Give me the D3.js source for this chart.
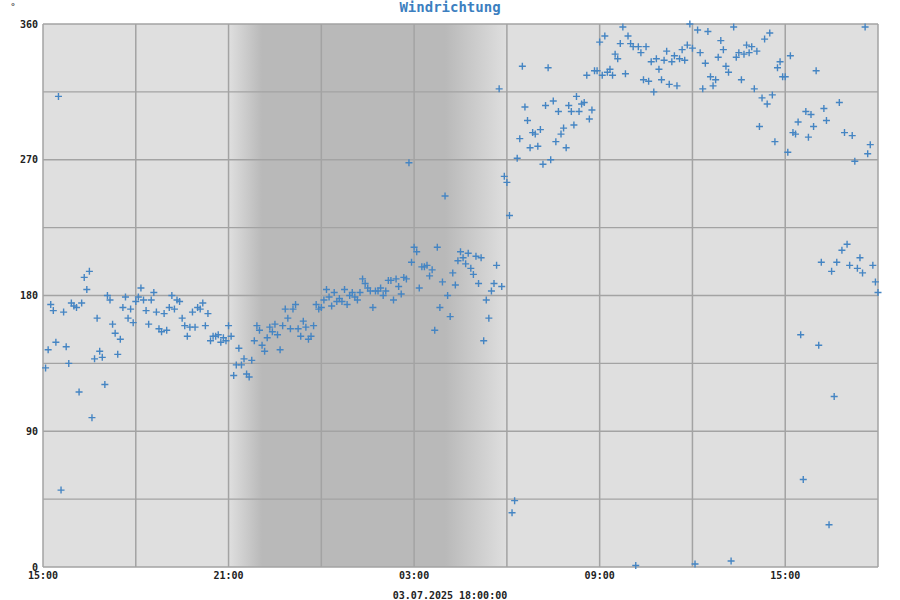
<!DOCTYPE html>
<html>
<head>
<meta charset="utf-8">
<script src="https://cdn.jsdelivr.net/npm/d3@7"></script>
<style>
  body { margin: 0; background: #ffffff; }
  svg { display: block; }
  text { font-family: "DejaVu Sans Mono", "Liberation Mono", monospace; font-weight: bold; }
</style>
</head>
<body>
<svg id="chart" width="900" height="600"></svg>
<script>
// ---------------- data ----------------
const chartTitle = "Windrichtung";
const unitLabel = "°";
const dateLabel = "03.07.2025 18:00:00";
const domainStart = "2025-07-02T15:00:00Z";
const domainEnd = "2025-07-03T18:00:00Z";
const firstSample = "2025-07-02T15:05:00Z";
const sampleStepMinutes = 5;
const yTickValues = [0, 90, 180, 270, 360];
const yTickLabels = ["0", "90", "180", "270", "360"];
const yGridValues = [0, 45, 90, 135, 180, 225, 270, 315, 360];
const xTickLabels = ["15:00", "21:00", "03:00", "09:00", "15:00"];
// night shading: twilight start, full dark, dark end, daylight
const nightTimes = ["2025-07-02T21:00:00Z", "2025-07-02T22:05:00Z", "2025-07-03T04:00:00Z", "2025-07-03T06:00:00Z"];

// wind direction in degrees, one reading every 5 minutes
const windDirection = [
  132,144,174,170,149,312,51,169,146,135,175,173,172,116,175,192,184,196,99,138,
  165,143,139,121,180,177,161,155,141,151,172,179,165,171,162,176,179,185,177,170,
  161,177,182,169,158,156,168,157,172,180,171,177,176,165,160,153,159,169,159,172,
  171,175,160,168,150,153,153,154,149,152,150,160,153,127,134,145,134,138,128,126,
  137,150,160,157,147,143,152,159,156,161,154,144,160,171,165,158,171,174,158,153,
  163,159,151,153,160,174,171,172,177,184,179,173,182,176,178,176,184,174,180,182,
  179,177,182,191,188,185,183,172,183,183,185,180,183,190,190,177,191,186,181,192,
  191,268,202,212,209,185,199,199,200,193,197,157,212,172,189,246,180,166,195,187,
  203,209,205,201,208,198,194,206,188,205,150,177,165,183,188,200,317,186,259,255,
  233,36,44,271,284,332,305,296,278,288,287,279,290,267,306,331,270,309,282,302,
  287,291,278,306,302,293,312,302,307,308,326,297,303,329,329,348,326,352,328,330,
  326,340,337,347,358,327,352,347,345,1,345,341,323,345,322,335,315,337,330,323,
  336,342,320,335,339,319,337,343,336,346,360,344,2,356,341,317,334,355,325,319,
  323,338,349,343,332,328,4,358,338,341,323,340,346,341,345,317,342,292,311,350,
  307,354,313,282,331,335,325,325,275,339,288,287,295,154,58,302,285,300,292,329,
  147,202,304,296,28,196,113,202,308,210,288,214,200,286,269,198,205,195,358,274,
  280,200,189,182
];

// ---------------- chart ----------------
const W = 900, H = 600;
const margin = { left: 43, right: 22, top: 24, bottom: 33 };
const svg = d3.select("#chart");

const x = d3.scaleUtc()
  .domain([new Date(domainStart), new Date(domainEnd)])
  .range([margin.left, W - margin.right]);
const y = d3.scaleLinear()
  .domain([0, 360])
  .range([H - margin.bottom, margin.top]);

const t0 = new Date(firstSample).getTime();
const points = windDirection.map((v, i) => ({
  t: new Date(t0 + i * sampleStepMinutes * 60000),
  v
}));

const [x0, x1] = x.range();
const [yb, yt] = y.range();
const dStart = x.domain()[0];
const dEndPlus = new Date(x.domain()[1].getTime() + 1);

// gradient for night shading
const defs = svg.append("defs");
const nx0 = x(new Date(nightTimes[0])), nx3 = x(new Date(nightTimes[3]));
const grad = defs.append("linearGradient")
  .attr("id", "night")
  .attr("gradientUnits", "userSpaceOnUse")
  .attr("x1", nx0).attr("x2", nx3)
  .attr("y1", 0).attr("y2", 0);
const off = t => (x(new Date(t)) - nx0) / (nx3 - nx0);
const light = "#dfdfdf", dark = "#b9b9b9";
grad.append("stop").attr("offset", 0).attr("stop-color", light);
grad.append("stop").attr("offset", off(nightTimes[1])).attr("stop-color", dark);
grad.append("stop").attr("offset", off(nightTimes[2])).attr("stop-color", dark);
grad.append("stop").attr("offset", 1).attr("stop-color", light);

// plot background
svg.append("rect")
  .attr("x", x0).attr("y", yt)
  .attr("width", x1 - x0).attr("height", yb - yt)
  .attr("fill", light);
svg.append("rect")
  .attr("x", nx0).attr("y", yt)
  .attr("width", nx3 - nx0).attr("height", yb - yt)
  .attr("fill", "url(#night)");

// grid
const gridColor = "#a3a3a3";
const grid = svg.append("g");
grid.selectAll("line.h").data(yGridValues).join("line")
  .attr("class", "h")
  .attr("x1", x0).attr("x2", x1)
  .attr("y1", d => y(d)).attr("y2", d => y(d))
  .attr("stroke", gridColor).attr("stroke-width", 1.4);
const xGrid = d3.utcHour.range(dStart, dEndPlus, 3);
grid.selectAll("line.v").data(xGrid).join("line")
  .attr("class", "v")
  .attr("x1", d => x(d)).attr("x2", d => x(d))
  .attr("y1", yt).attr("y2", yb)
  .attr("stroke", gridColor).attr("stroke-width", 1.5);

// y tick labels
svg.append("g").selectAll("text").data(yTickValues).join("text")
  .attr("x", x0 - 5)
  .attr("y", d => y(d) + 3.5)
  .attr("text-anchor", "end")
  .attr("font-size", 10)
  .attr("fill", "#222")
  .text((d, i) => yTickLabels[i]);

// x tick labels (every 6 hours starting at the domain start)
const xTicks = d3.utcHour.range(dStart, x.domain()[1], 6);
svg.append("g").selectAll("text").data(xTicks).join("text")
  .attr("x", d => x(d))
  .attr("y", yb + 12)
  .attr("text-anchor", "middle")
  .attr("font-size", 10)
  .attr("fill", "#222")
  .text((d, i) => xTickLabels[i]);

// date label
svg.append("text")
  .attr("x", W / 2)
  .attr("y", 598.5)
  .attr("text-anchor", "middle")
  .attr("font-size", 10)
  .attr("fill", "#222")
  .text(dateLabel);

// title
svg.append("text")
  .attr("x", W / 2)
  .attr("y", 11.5)
  .attr("text-anchor", "middle")
  .attr("font-size", 14)
  .attr("fill", "#3c7fc0")
  .text(chartTitle);

// unit
svg.append("text")
  .attr("x", 13)
  .attr("y", 10)
  .attr("text-anchor", "middle")
  .attr("font-size", 9)
  .attr("font-weight", "normal")
  .attr("fill", "#444")
  .text(unitLabel);

// markers
svg.append("g").selectAll("path").data(points).join("path")
  .attr("transform", d => `translate(${x(d.t)},${y(d.v)})`)
  .attr("d", "M-3.5,0H3.5M0,-3.5V3.5")
  .attr("stroke", "#4585c3")
  .attr("stroke-width", 1.4)
  .attr("fill", "none");
</script>
</body>
</html>
